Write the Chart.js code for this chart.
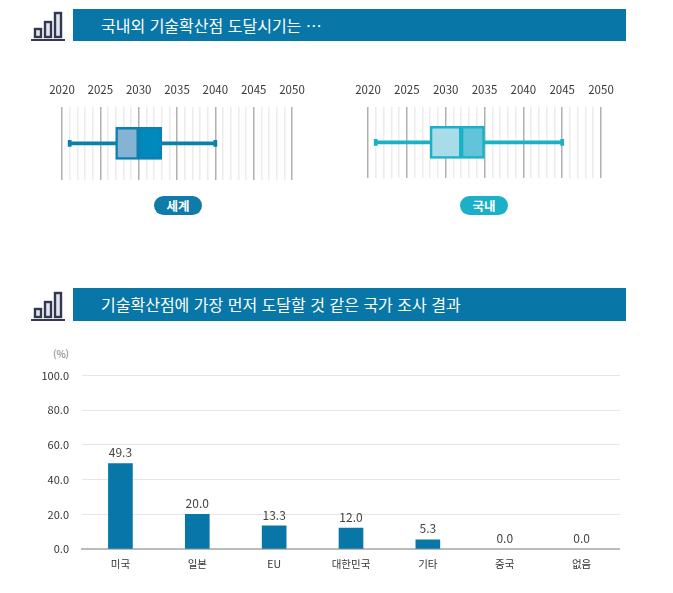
<!DOCTYPE html>
<html lang="ko">
<head>
<meta charset="UTF-8">
<title>기술확산점</title>
<script src="https://cdn.jsdelivr.net/npm/chart.js"></script>
<style>
  body { margin: 0; background: #fff; font-family: "Noto Sans CJK KR", sans-serif; }
  #page { position: relative; width: 673px; height: 593px; overflow: hidden; }
  .banner { position: absolute; left: 73px; width: 553px; background: #0877a8; color: #fff; font-size: 16px; line-height: 32px; height: 32px; padding-left: 28px; box-sizing: border-box; white-space: nowrap; }
  .icon { position: absolute; left: 31px; width: 34px; height: 32px; }
  .pill { position: absolute; top: 196px; height: 19px; width: 48px; border-radius: 10px; color: #fff; font-size: 12.5px; font-weight: 700; line-height: 19px; text-align: center; }
  .unit { position: absolute; left: 40px; top: 346px; width: 29px; text-align: right; font-size: 10px; color: #777; }
  canvas { position: absolute; }
</style>
</head>
<body>
<div id="page">
  <svg class="icon" style="top:11px" viewBox="0 0 34 32"><g fill="#dfe6f1" stroke="#33384f" stroke-width="2.4"><rect x="4" y="18" width="6" height="8"/><rect x="14" y="11" width="6" height="15"/><rect x="24" y="2" width="6" height="24"/></g><rect x="0" y="28" width="34" height="2" fill="#33384f"/></svg>
  <div class="banner" style="top:9px">국내외 기술확산점 도달시기는 …</div>
  <canvas id="worldChart" style="left:22px;top:73px;width:310px;height:107px"></canvas>
  <canvas id="koreaChart" style="left:328px;top:73px;width:313px;height:105px"></canvas>
  <div class="pill" style="left:154px;background:#0e7ba8">세계</div>
  <div class="pill" style="left:460px;background:#1ab0c8">국내</div>

  <svg class="icon" style="top:291px" viewBox="0 0 34 32"><g fill="#dfe6f1" stroke="#33384f" stroke-width="2.4"><rect x="4" y="18" width="6" height="8"/><rect x="14" y="11" width="6" height="15"/><rect x="24" y="2" width="6" height="24"/></g><rect x="0" y="28" width="34" height="2" fill="#33384f"/></svg>
  <div class="banner" style="top:288px;height:33px;line-height:33px">기술확산점에 가장 먼저 도달할 것 같은 국가 조사 결과</div>
  <div class="unit">(%)</div>
  <canvas id="barChart" style="left:20px;top:356px;width:600px;height:219px"></canvas>
</div>

<script>
const FONT = '"Noto Sans CJK KR", sans-serif';

// 도달시기 (최소, 1사분위, 중앙값, 3사분위, 최대)
const worldStats = [2021, 2027, 2030, 2033, 2040];
const koreaStats = [2021, 2028, 2032, 2035, 2045];
const yearStart = 2020;
const yearEnd = 2050;

// 국가 조사 결과
const countries = ['미국', '일본', 'EU', '대한민국', '기타', '중국', '없음'];
const shares = [49.3, 20.0, 13.3, 12.0, 5.3, 0.0, 0.0];

Chart.defaults.animation = false;
Chart.defaults.responsive = false;
Chart.defaults.font.family = FONT;

function rangeChart(id, stats, edge, lowFill, highFill) {
    const [min, q1, med, q3, max] = stats;
    const capHalf = 0.2;
    new Chart(document.getElementById(id), {
        type: 'bar',
        data: {
            labels: [''],
            datasets: [
                { data: [[q1, med]], backgroundColor: lowFill, borderColor: edge, borderWidth: 2.5, borderSkipped: false, barThickness: 32, order: 1 },
                { data: [[med, q3]], backgroundColor: highFill, borderColor: edge, borderWidth: 2.5, borderSkipped: false, barThickness: 32, order: 1 },
                { data: [[min, max]], backgroundColor: edge, barThickness: 3, order: 2 },
                { data: [[min - capHalf, min + capHalf]], backgroundColor: edge, barThickness: 6, order: 2 },
                { data: [[max - capHalf, max + capHalf]], backgroundColor: edge, barThickness: 6, order: 2 }
            ]
        },
        options: {
            indexAxis: 'y',
            layout: { padding: { left: 40, right: 40 } },
            plugins: { legend: { display: false }, tooltip: { enabled: false } },
            scales: {
                x: {
                    position: 'top',
                    min: yearStart,
                    max: yearEnd,
                    border: { display: false },
                    grid: {
                        drawTicks: false,
                        lineWidth: 1.5,
                        color: ctx => ctx.tick.value % 5 === 0 ? '#b0b0b0' : '#ececec'
                    },
                    ticks: {
                        stepSize: 1,
                        autoSkip: false,
                        maxRotation: 0,
                        padding: 10,
                        color: '#3a3a3a',
                        font: { size: 11.5 },
                        callback: v => v % 5 === 0 ? String(v) : ''
                    }
                },
                y: { stacked: true, display: false }
            }
        }
    });
}

rangeChart('worldChart', worldStats, '#0a7fb0', '#85b3d3', '#0089bd');
rangeChart('koreaChart', koreaStats, '#1ab0c6', '#a9dce9', '#62c4d8');

// 막대 위 값 표시
const valueLabels = {
    id: 'valueLabels',
    afterDatasetsDraw(chart) {
        const ctx = chart.ctx;
        ctx.save();
        ctx.font = '12px ' + FONT;
        ctx.fillStyle = '#444';
        ctx.textAlign = 'center';
        ctx.textBaseline = 'middle';
        chart.getDatasetMeta(0).data.forEach((bar, i) => {
            ctx.fillText(shares[i].toFixed(1), bar.x, bar.y - 11);
        });
        ctx.restore();
    }
};

new Chart(document.getElementById('barChart'), {
    type: 'bar',
    data: {
        labels: countries,
        datasets: [{
            data: shares,
            backgroundColor: ctx => ctx.raw > 0 ? '#0877a8' : 'transparent',
            barThickness: 24
        }]
    },
    options: {
        layout: { padding: { top: 10 } },
        plugins: { legend: { display: false }, tooltip: { enabled: false } },
        scales: {
            x: {
                afterFit: scale => { scale.height = 26; },
                border: { color: '#bbbbbb', width: 2 },
                grid: { display: false },
                ticks: { color: '#333', font: { size: 10.5 }, padding: 1 }
            },
            y: {
                min: 0,
                max: 100,
                afterFit: scale => { scale.width = 62; },
                border: { display: false },
                grid: { color: '#e6e6e6', drawTicks: false },
                ticks: {
                    stepSize: 20,
                    padding: 13,
                    color: '#333',
                    font: { size: 11 },
                    callback: v => v.toFixed(1)
                }
            }
        }
    },
    plugins: [valueLabels]
});
</script>
</body>
</html>
